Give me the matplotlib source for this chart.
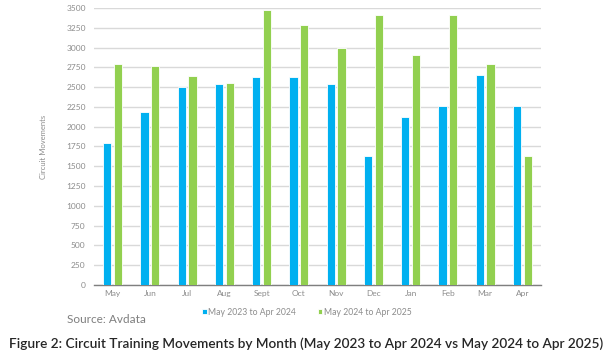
import matplotlib.pyplot as plt
import numpy as np

# monthly circuit training movements
months = ['May', 'Jun', 'Jul', 'Aug', 'Sept', 'Oct', 'Nov', 'Dec', 'Jan', 'Feb', 'Mar', 'Apr']
prev_year = [1790, 2180, 2500, 2545, 2630, 2625, 2540, 1635, 2120, 2265, 2655, 2260]
this_year = [2790, 2770, 2640, 2555, 3480, 3280, 2990, 3410, 2910, 3415, 2790, 1630]
series_names = ['May 2023 to Apr 2024', 'May 2024 to Apr 2025']

plt.rcParams['font.family'] = ['Lato', 'DejaVu Sans']

fig = plt.figure(figsize=(6.12, 3.63), dpi=100)
ax = fig.add_axes([0.1536, 0.2149, 0.7304, 0.7631])

x = np.arange(len(months))
w = 0.22
ax.bar(x - 0.145, prev_year, w, color='#00B0F0', edgecolor='white', linewidth=0.6,
       label=series_names[0], zorder=3)
ax.bar(x + 0.145, this_year, w, color='#92D050', edgecolor='white', linewidth=0.6,
       label=series_names[1], zorder=3)

ax.set_xlim(-0.5, len(months) - 0.5)
ax.set_ylim(0, 3500)
ax.set_yticks(np.arange(0, 3501, 250))
ax.set_xticks(x)
ax.set_xticklabels(months)
ax.tick_params(axis='both', length=0, labelsize=6, labelcolor='#8C8C8C')
ax.tick_params(axis='y', pad=6)
ax.grid(axis='y', color='#D9D9D9', linewidth=1.0, zorder=0)
for s in ['top', 'right', 'left']:
    ax.spines[s].set_visible(False)
ax.spines['bottom'].set_color('#7F7F7F')
ax.spines['bottom'].set_linewidth(1.0)

ax.set_ylabel('Circuit Movements', fontsize=5.5, color='#8C8C8C', labelpad=14)

ax.legend(loc='center', bbox_to_anchor=(0.476, -0.099), ncol=2, frameon=False,
          fontsize=6.2, labelcolor='#8C8C8C', handlelength=0.5, handleheight=0.5,
          handletextpad=0.2, columnspacing=2.5)

fig.text(0.109, 0.121, 'Source: Avdata', fontsize=8.5, color='#7F7F7F', va='center')
fig.text(0.5, 0.052, 'Figure 2: Circuit Training Movements by Month (May 2023 to Apr 2024 vs May 2024 to Apr 2025)',
         fontsize=9.8, color='#262626', fontweight='semibold', ha='center', va='center')

fig.savefig('out.png', dpi=100)
